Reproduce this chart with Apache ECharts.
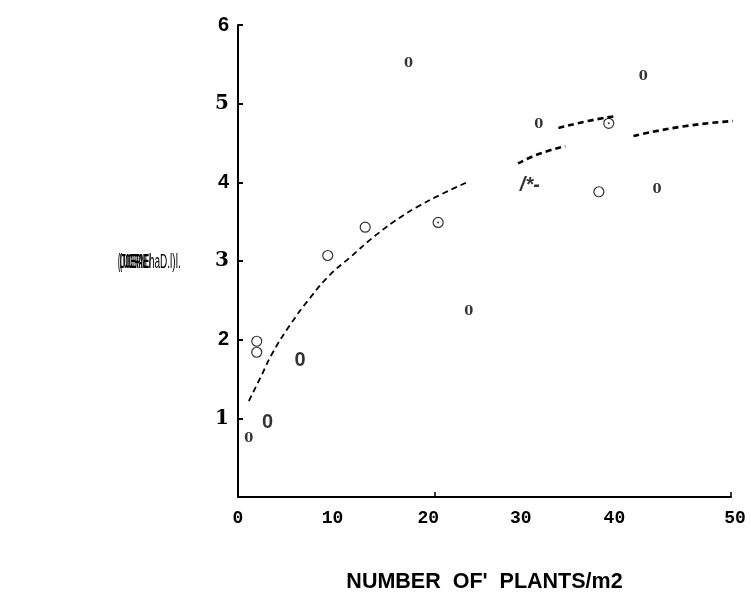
<!DOCTYPE html>
<html>
<head>
<meta charset="utf-8">
<style>
  html, body { margin: 0; padding: 0; background: #fff; }
  #chart { width: 751px; height: 594px; }
</style>
<script src="https://cdn.jsdelivr.net/npm/echarts@6/dist/echarts.min.js"></script>
</head>
<body>
<div id="chart"></div>
<script>
// Open-circle observations [plants/m2, yield]
const circlePoints = [[1.9, 1.98], [1.9, 1.84], [9.1, 3.07], [12.9, 3.43], [20.3, 3.49], [37.6, 4.75], [36.6, 3.88]];
// Circles that carry a centre dot
const dottedPoints = [[20.3, 3.49], [37.6, 4.75]];
// Observations that came out of the scan as a small serif "0"
const serifZeroPoints = [[17.3, 5.51], [41.1, 5.34], [30.5, 4.73], [42.5, 3.91], [23.4, 2.36], [1.1, 0.74]];
// Observations that came out as a larger sans "0"
const sansZeroPoints = [[6.3, 1.74], [3.0, 0.95]];
// Stray mark "/*-"
const strayMark = [[29.6, 3.96]];

// Fitted curve, broken into the dashed pieces visible in the scan
const curveLow = [[1.1, 1.22], [2.4, 1.55], [3.5, 1.83], [5.3, 2.19], [7.3, 2.53], [9.3, 2.82], [11.4, 3.05], [13.9, 3.32], [16.4, 3.55], [18.5, 3.71], [20.5, 3.84], [23.2, 4.0]];
const curveMid = [[28.4, 4.24], [30.5, 4.36], [33.2, 4.46]];
const curveUpper = [[32.5, 4.69], [35.5, 4.78], [38.2, 4.84]];
const curveTail = [[40.1, 4.59], [45.1, 4.71], [50.2, 4.78]];

const xTicks = [0, 10, 20, 30, 40, 50];
const yTicks = [1, 2, 3, 4, 5, 6];

const SANS = '"Liberation Sans", Arial, sans-serif';
const SERIF = '"DejaVu Serif", "Liberation Serif", serif';
const MONO = '"Liberation Mono", "DejaVu Sans Mono", monospace';

// the scanned tick labels sit a little off their ticks
const X_LABEL_STYLE = {
    0: 'p0', 10: 'p10', 20: 'p20', 30: 'p30', 40: 'p40', 50: 'p50'
};
const monoLabel = { color: '#000', fontFamily: MONO, fontWeight: 'bold', fontSize: 18 };

function dashedPiece(data, width) {
    return {
        type: 'line',
        data: data,
        smooth: true,
        symbol: 'none',
        silent: true,
        lineStyle: { color: '#000', width: width, type: [6, 4] }
    };
}

function textPoints(data, text, style) {
    return {
        type: 'scatter',
        data: data,
        symbolSize: 1,
        itemStyle: { color: 'rgba(0,0,0,0)' },
        label: Object.assign({ show: true, position: 'inside', formatter: text, color: '#000' }, style)
    };
}

const chart = echarts.init(document.getElementById('chart'));
chart.setOption({
    animation: false,
    backgroundColor: '#fff',
    grid: { left: 238, right: 20, top: 25, bottom: 97, outerBoundsMode: 'none' },
    xAxis: {
        type: 'value',
        min: 0,
        max: 50,
        interval: 10,
        splitLine: { show: false },
        axisLine: { lineStyle: { color: '#000', width: 2 } },
        axisTick: { show: true, inside: true, length: 5, customValues: [20, 50], lineStyle: { color: '#000', width: 1.5 } },
        axisLabel: {
            customValues: xTicks,
            margin: 12,
            formatter: v => `{${X_LABEL_STYLE[v]}|${v}}`,
            rich: {
                p0: monoLabel,
                p10: Object.assign({ padding: [0, 8, 0, 0] }, monoLabel),
                p20: Object.assign({ padding: [0, 14, 0, 0] }, monoLabel),
                p30: Object.assign({ padding: [0, 26, 0, 0] }, monoLabel),
                p40: Object.assign({ padding: [0, 36, 0, 0] }, monoLabel),
                p50: Object.assign({ padding: [0, 0, 0, 8] }, monoLabel)
            }
        },
        name: "NUMBER  OF'  PLANTS/m2",
        nameLocation: 'middle',
        nameGap: 74,
        nameTextStyle: { color: '#000', fontFamily: SANS, fontWeight: 'bold', fontSize: 21.5 }
    },
    yAxis: {
        type: 'value',
        min: 0,
        max: 6,
        interval: 1,
        splitLine: { show: false },
        axisLine: { lineStyle: { color: '#000', width: 2 } },
        axisTick: { show: true, inside: true, length: 5, lineStyle: { color: '#000', width: 2 } },
        axisLabel: {
            customValues: yTicks,
            margin: 9,
            formatter: v => (v === 5 || v === 3) ? `{serif|${v}}` : v === 1 ? `{one|${v}}` : `{sans|${v}}`,
            rich: {
                sans: { color: '#000', fontFamily: SANS, fontWeight: 'bold', fontSize: 20 },
                serif: { color: '#000', fontFamily: SERIF, fontWeight: 'bold', fontSize: 20 },
                one: { color: '#000', fontFamily: SERIF, fontWeight: 'bold', fontSize: 20 }
            }
        }
    },
    graphic: [
        { type: 'text', x: 118, y: 252, scaleX: 0.3, style: { text: '(LUCERNE/', font: 'bold 20px "Liberation Sans", sans-serif', fill: '#000' } },
        { type: 'text', x: 120, y: 252, scaleX: 0.3, style: { text: '(TOERAE', font: 'bold 20px "Liberation Sans", sans-serif', fill: '#000' } },
        { type: 'text', x: 149, y: 252, scaleX: 0.5, style: { text: 'haD.l)l.', font: '20px "Liberation Sans", sans-serif', fill: '#000' } }
    ],
    series: [
        dashedPiece(curveLow, 1.8),
        dashedPiece(curveMid, 2.6),
        dashedPiece(curveUpper, 2.6),
        dashedPiece(curveTail, 2.6),
        {
            type: 'scatter',
            data: circlePoints,
            symbol: 'circle',
            symbolSize: 10,
            itemStyle: { color: '#fff', borderColor: '#000', borderWidth: 1.2 }
        },
        {
            type: 'scatter',
            data: dottedPoints,
            symbol: 'circle',
            symbolSize: 2,
            itemStyle: { color: '#000' }
        },
        textPoints(serifZeroPoints, '0', { fontFamily: SERIF, fontWeight: 'bold', fontSize: 13 }),
        textPoints(sansZeroPoints, '0', { fontFamily: SANS, fontWeight: 'bold', fontSize: 20 }),
        textPoints(strayMark, '/*-', { fontFamily: SANS, fontWeight: 'bold', fontStyle: 'italic', fontSize: 20 })
    ]
});
</script>
</body>
</html>
